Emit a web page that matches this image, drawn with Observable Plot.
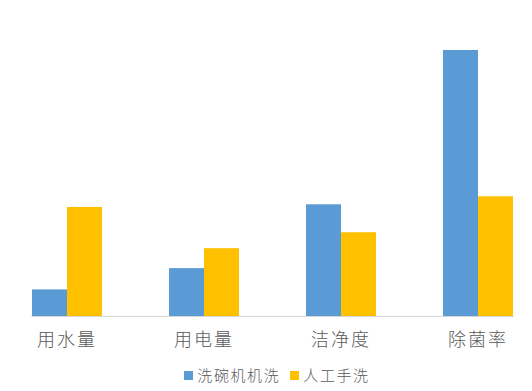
<!DOCTYPE html>
<html>
<head>
<meta charset="utf-8">
<script src="https://cdn.jsdelivr.net/npm/d3@7"></script>
<script src="https://cdn.jsdelivr.net/npm/@observablehq/plot@0.6"></script>
<style>
  html, body { margin: 0; padding: 0; background: #fff; overflow: hidden; }
  #chart svg text { letter-spacing: 2px; }
  .legend { display: flex; justify-content: center; align-items: center; gap: 10px;
    margin-left: 22px; padding-top: 6px; font-family: "Noto Sans CJK SC", sans-serif;
    font-size: 15px; color: #595959; letter-spacing: 1.6px; line-height: 18px; font-weight: 300; }
  .legend .item { display: flex; align-items: center; gap: 4px; }
  .legend .sw { width: 9px; height: 9px; display: inline-block; }
</style>
</head>
<body>
<div id="chart"></div>
<script>
const categories = ["用水量", "用电量", "洁净度", "除菌率"];
const series = ["洗碗机机洗", "人工手洗"];
const machineWash = [10, 18, 42, 100];
const handWash = [41, 25.5, 31.5, 45];
const colors = ["#5B9BD5", "#FFC000"];

const data = categories.flatMap((c, i) => [
  {cat: c, s: series[0], v: machineWash[i]},
  {cat: c, s: series[1], v: handWash[i]}
]);

const chart = Plot.plot({
  width: 532,
  height: 360,
  marginTop: 50,
  marginBottom: 44,
  marginLeft: -4,
  marginRight: -15,
  style: {fontFamily: "'Noto Sans CJK SC', sans-serif", fontSize: "18px", color: "#595959", background: "#fff", fontWeight: 300},
  fx: {domain: categories, paddingInner: 0.483, paddingOuter: 0.2415, label: null, axis: "bottom", tickSize: 0, tickPadding: 17},
  x: {domain: series, padding: 0, axis: null},
  y: {domain: [0, 100], axis: null},
  color: {domain: series, range: colors},
  marks: [
    Plot.barY(data, {fx: "cat", x: "s", y: "v", fill: "s"}),
    Plot.frame({anchor: "bottom", stroke: "#d9d9d9", strokeWidth: 1, facet: "super"})
  ]
});
document.getElementById("chart").appendChild(chart);

const legend = document.createElement("div");
legend.className = "legend";
series.forEach((s, i) => {
  const item = document.createElement("span");
  item.className = "item";
  const sw = document.createElement("span");
  sw.className = "sw";
  sw.style.background = colors[i];
  const t = document.createElement("span");
  t.textContent = s;
  item.appendChild(sw);
  item.appendChild(t);
  legend.appendChild(item);
});
document.body.appendChild(legend);
</script>
</body>
</html>
